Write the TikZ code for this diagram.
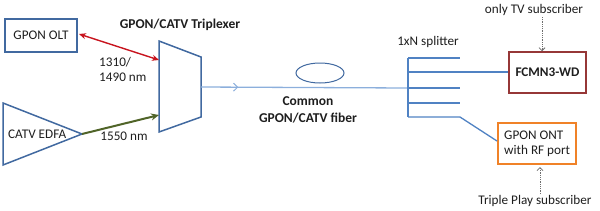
\documentclass[tikz,border=0pt]{standalone}
\usepackage{fontspec}
\setmainfont{Carlito}
\usetikzlibrary{arrows.meta,decorations.markings}
\definecolor{bbox}{RGB}{65,105,160}
\definecolor{fib}{RGB}{140,175,220}
\definecolor{spl}{RGB}{80,130,195}
\definecolor{redar}{RGB}{200,20,30}
\definecolor{grnar}{RGB}{80,100,40}
\definecolor{dred}{RGB}{150,55,55}
\definecolor{orng}{RGB}{240,130,40}
\definecolor{dgray}{RGB}{110,110,110}
\definecolor{txt}{RGB}{30,30,30}
\tikzset{
  boxst/.style={draw, line width=1.5pt, inner sep=0pt, text=txt},
  lbl/.style={inner sep=0pt, text=txt, font=\fontsize{13.2}{15}\selectfont},
  blbl/.style={lbl, font=\fontsize{13.5}{17}\selectfont\bfseries},
  dotar/.style={draw=dgray, densely dotted, line width=0.8pt, -{Straight Barb[length=3pt,width=6pt]}},
}
\begin{document}
\begin{tikzpicture}[x=1pt,y=-1pt]
\useasboundingbox (0,0) rectangle (600,210);
% GPON OLT
\node[boxst, draw=bbox, minimum width=72pt, minimum height=33pt, font=\fontsize{13.2}{15}\selectfont] (olt) at (41,35.5) {GPON OLT};
% CATV EDFA triangle
\coordinate (e1) at (3,103);
\coordinate (etip) at (82,134);
\coordinate (e3) at (3,165);
\draw[bbox, line width=1.5pt, line join=miter] (e1) -- (etip) -- (e3) -- cycle;
\node[lbl, anchor=west] (edfa) at (8,134) {CATV EDFA};
% Triplexer trapezoid
\coordinate (t1) at (159,41);
\coordinate (t2) at (201,57);
\coordinate (t3) at (201,117);
\coordinate (t4) at (159,132);
\draw[bbox, line width=1.5pt] (t1) -- (t2) -- (t3) -- (t4) -- cycle;
\node[blbl] (tritle) at (180,25) {GPON/CATV Triplexer};
\coordinate (tin1) at (159,60);
\coordinate (tin2) at (159,115);
\coordinate (tout) at (201,87);
% arrows in
\coordinate (oltout) at (79,34);
\draw[redar, line width=1.4pt, {Stealth[length=7pt,width=6pt]}-{Stealth[length=7pt,width=6pt]}] (oltout) -- (tin1);
\draw[grnar, line width=2pt, -{Stealth[length=8pt,width=7pt]}] (etip) -- (tin2);
\node[lbl, anchor=west, align=left] (wl1) at (99,69.5) {1310/\\1490 nm};
\node[lbl] (wl2) at (124,136) {1550 nm};
% fiber
\coordinate (spin) at (408,88);
\draw[fib, line width=1.3pt, postaction={decorate}, decoration={markings, mark=at position 0.18 with {\arrow[line width=1pt]{Straight Barb[length=4pt,width=8pt]}}}] (tout) -- (spin);
\draw[bbox, line width=1pt] (320,73) ellipse (24pt and 10pt);
\node[blbl, align=center] (fibl) at (308,109.5) {Common\\GPON/CATV fiber};
% splitter
\coordinate (s0) at (408,58);
\coordinate (s4) at (408,117);
\draw[spl, line width=1.3pt] (s0) -- (s4);
\coordinate (b0) at (460,58);
\coordinate (b2) at (460,88);
\coordinate (b3) at (460,103);
\coordinate (b4) at (460,117);
\draw[spl, line width=1.3pt] (s0) -- (b0);
\draw[spl, line width=1.3pt] (spin) -- (b2);
\draw[spl, line width=1.3pt] (408,103) -- (b3);
\node[lbl] (spll) at (428,42) {1xN splitter};
% FCMN3-WD
\node[boxst, draw=dred, minimum width=77pt, minimum height=41pt, font=\fontsize{13.2}{15}\selectfont\bfseries] (fcmn) at (547.5,72.5) {FCMN3-WD};
\draw[spl, line width=1.3pt] (408,72) -- (fcmn.west |- 0,72);
% GPON ONT
\node[boxst, draw=orng, minimum width=78pt, minimum height=41pt] (ont) at (537,143.5) {};
\node[lbl, anchor=west, align=left] (ontl) at (504,143.5) {GPON ONT\\with RF port};
\coordinate (ontin) at (497,141);
\draw[spl, line width=1.3pt] (s4) -- (b4) -- (ontin);
% subscribers
\node[lbl] (tvsub) at (534,9.5) {only TV subscriber};
\node[lbl] (tpsub) at (535,201) {Triple Play subscriber};
\draw[dotar] (542,17) -- (fcmn.north -| 542,0);
\draw[dotar] (540,194) -- (540,167);
\end{tikzpicture}
\end{document}
